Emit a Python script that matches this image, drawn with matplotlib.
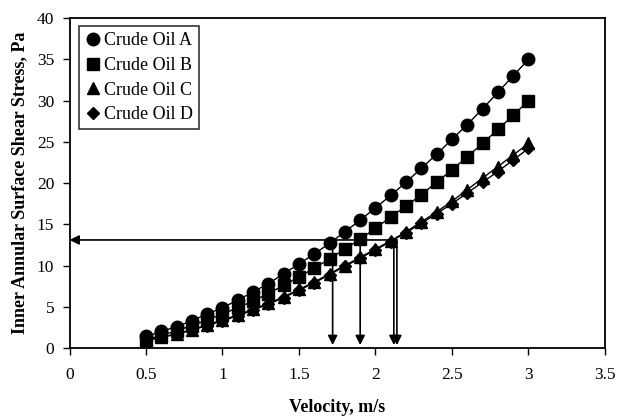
import matplotlib
matplotlib.use('Agg')
import matplotlib.pyplot as plt
from matplotlib.lines import Line2D

plt.rcParams['font.family'] = ['Liberation Serif', 'DejaVu Serif']
plt.rcParams['font.size'] = 12.5

# data
velocity = [0.5, 0.6, 0.7, 0.8, 0.9, 1.0, 1.1, 1.2, 1.3, 1.4, 1.5, 1.6, 1.7,
            1.8, 1.9, 2.0, 2.1, 2.2, 2.3, 2.4, 2.5, 2.6, 2.7, 2.8, 2.9, 3.0]
oil_a = [1.4, 2.0, 2.6, 3.3, 4.1, 4.9, 5.8, 6.8, 7.8, 9.0, 10.2, 11.4, 12.7,
         14.1, 15.5, 17.0, 18.5, 20.1, 21.8, 23.5, 25.3, 27.1, 29.0, 31.0, 33.0, 35.0]
oil_b = [1.0, 1.5, 2.1, 2.7, 3.4, 4.1, 4.9, 5.7, 6.6, 7.6, 8.6, 9.7, 10.8,
         12.0, 13.2, 14.5, 15.9, 17.2, 18.6, 20.1, 21.6, 23.2, 24.8, 26.5, 28.2, 30.0]
oil_c = [0.9, 1.3, 1.7, 2.2, 2.8, 3.4, 4.0, 4.7, 5.4, 6.2, 7.1, 8.0, 9.0,
         10.0, 11.0, 12.0, 13.0, 14.1, 15.3, 16.5, 17.8, 19.2, 20.6, 22.0, 23.4, 24.8]
oil_d = [0.9, 1.3, 1.7, 2.2, 2.7, 3.3, 3.9, 4.6, 5.3, 6.1, 7.0, 7.9, 8.9,
         9.9, 10.9, 11.9, 12.9, 14.0, 15.1, 16.3, 17.5, 18.8, 20.1, 21.4, 22.8, 24.2]
labels = ['Crude Oil A', 'Crude Oil B', 'Crude Oil C', 'Crude Oil D']
markers = ['o', 's', '^', 'D']
msizes = [9, 8.5, 8, 6]

# arrows: stress level and the velocities it maps to
stress_level = 13.1
arrow_x = [1.72, 1.90, 2.12, 2.14]

fig = plt.figure(figsize=(6.19, 4.17), dpi=100)
ax = fig.add_axes([0.1123, 0.1655, 0.865, 0.791])

for ys, m, ms, lab in zip([oil_a, oil_b, oil_c, oil_d], markers, msizes, labels):
    ax.plot(velocity, ys, color='black', lw=1, marker=m, ms=ms, mfc='black', mec='black', label=lab)

arrow_kw = dict(arrowstyle='-|>', color='black', lw=1.2, mutation_scale=14, shrinkA=0, shrinkB=0)
ax.annotate('', xy=(0.0, stress_level), xytext=(max(arrow_x), stress_level), arrowprops=arrow_kw)
for xa in arrow_x:
    ax.annotate('', xy=(xa, 0.35), xytext=(xa, stress_level), arrowprops=arrow_kw)

ax.set_xlim(0, 3.5)
ax.set_ylim(0, 40)
ax.set_xticks([0, 0.5, 1, 1.5, 2, 2.5, 3, 3.5])
ax.set_xticklabels(['0', '0.5', '1', '1.5', '2', '2.5', '3', '3.5'])
ax.set_yticks(range(0, 41, 5))
ax.tick_params(direction='out', length=5, width=1)
ax.tick_params(axis='x', pad=9)
ax.tick_params(axis='y', pad=6)
for s in ax.spines.values():
    s.set_linewidth(1.3)

ax.set_xlabel('Velocity, m/s', fontweight='bold', fontsize=13, labelpad=11)
ax.set_ylabel('Inner Annular Surface Shear Stress, Pa', fontweight='bold', fontsize=13, labelpad=6)

handles = [Line2D([], [], ls='none', marker=m, ms=ms, color='black') for m, ms in zip(markers, msizes)]
leg = ax.legend(handles, labels, loc='upper left', bbox_to_anchor=(0.018, 0.976), frameon=True,
                fancybox=False, edgecolor='black', handlelength=0.8, handletextpad=0.2,
                borderpad=0.35, borderaxespad=0, labelspacing=0.42, fontsize=13)
leg.get_frame().set_linewidth(1.2)

fig.savefig('out.png', dpi=100)
